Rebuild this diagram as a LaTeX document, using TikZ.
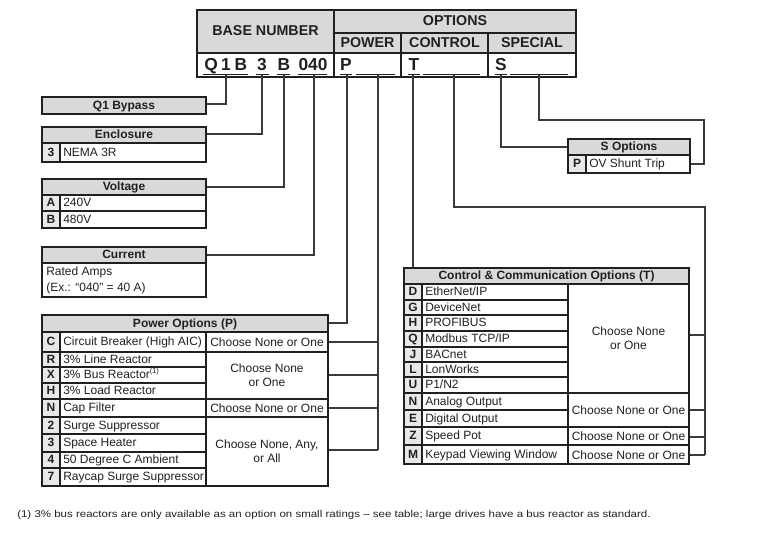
\documentclass[tikz,border=0pt]{standalone}
\usepackage{fontspec}
\setmainfont{Liberation Sans}
\usepackage{graphicx}
\definecolor{ink}{HTML}{231F20}
\definecolor{hdrgray}{HTML}{D9D9D9}
\definecolor{codegray}{HTML}{E8E8E8}
\definecolor{connc}{HTML}{3A3A3A}
\newcommand\tabfont{\fontsize{9}{10.6}\selectfont}
\newcommand\hdrfont{\fontsize{9}{10.6}\selectfont\bfseries}
\newcommand\bigfont{\fontsize{10.7}{12}\selectfont\bfseries}
\newcommand\codefont{\fontsize{13}{14}\selectfont\bfseries}
\newcommand\fnfont{\fontsize{7.4}{8.5}\selectfont}
\newcommand\coderow[7]{%
  \node[codetxt] (#1c) at ({(#2+#3)/2},{(#4+#5)/2}) {#6};
  \node[desctxt] (#1d) at ({#3+3},{(#4+#5)/2}) {#7};
}
\tikzset{
  frame/.style={draw=ink, line width=2.1pt},
  thinl/.style={draw=ink, line width=1.2pt},
  grpl/.style={draw=ink, line width=1.9pt},
  conn/.style={draw=connc, line width=0.9pt},
  uline/.style={draw=ink, line width=1.3pt},
  codetxt/.style={font=\hdrfont, text=ink, inner sep=0pt, anchor=mid},
  desctxt/.style={font=\tabfont, text=ink, inner sep=0pt, anchor=mid west},
  choosetxt/.style={font=\tabfont, text=ink, inner sep=0pt, align=center},
  hdrtxt/.style={font=\hdrfont, text=ink, inner sep=0pt, anchor=mid},
  bigtxt/.style={font=\bigfont, text=ink, inner sep=0pt, anchor=mid},
  codebig/.style={font=\codefont, text=ink, inner sep=0pt, anchor=base},
}
\begin{document}
\begin{tikzpicture}[x=0.75pt,y=-0.75pt]
\useasboundingbox (0,0) rectangle (760,560);

% ---------- header box ----------
\fill[hdrgray] (197,10) rectangle (576,53);
\draw[thinl] (334,33) -- (576,33);
\draw[grpl] (197,53) -- (576,53);
\draw[grpl] (334,10) -- (334,77);
\draw[grpl] (401,33) -- (401,77);
\draw[grpl] (488,33) -- (488,77);
\draw[frame] (197,10) rectangle (576,77);
\node[bigtxt] (basenum) at (265.5,32) {BASE NUMBER};
\node[bigtxt] (options) at (455,21.5) {OPTIONS};
\node[bigtxt] (power) at (367.5,43.5) {POWER};
\node[bigtxt] (control) at (444.5,43.5) {CONTROL};
\node[bigtxt] (special) at (532,43.5) {SPECIAL};

\node[codebig] (kQ) at (211,71) {Q};
\node[codebig] (k1) at (226,71) {1};
\node[codebig] (kB) at (241,71) {B};
\node[codebig] (k3) at (262,71) {3};
\node[codebig] (kB2) at (284,71) {B};
\node[codebig] (k040) at (313,71) {040};
\node[codebig] (kP) at (346,71) {P};
\node[codebig] (kT) at (414,71) {T};
\node[codebig] (kS) at (501,71) {S};
\draw[uline] (203,74.5) -- (248,74.5);
\draw[uline] (256,74.5) -- (269,74.5);
\draw[uline] (277,74.5) -- (290,74.5);
\draw[uline] (298,74.5) -- (327,74.5);
\draw[uline] (340,74.5) -- (352,74.5);
\draw[uline] (356,74.5) -- (395,74.5);
\draw[uline] (408,74.5) -- (420,74.5);
\draw[uline] (423,74.5) -- (480,74.5);
\draw[uline] (495,74.5) -- (507,74.5);
\draw[uline] (510,74.5) -- (568,74.5);

\coordinate (uQ) at (226,75.5);
\coordinate (u3) at (262,75.5);
\coordinate (uB) at (284,75.5);
\coordinate (u040) at (314,75.5);
\coordinate (uP) at (347,75.5);
\coordinate (uPb) at (378,75.5);
\coordinate (uT) at (413,75.5);
\coordinate (uTb) at (454,75.5);
\coordinate (uS) at (501,75.5);
\coordinate (uSb) at (539,75.5);

% ---------- Q1 Bypass ----------
\fill[hdrgray] (42,97) rectangle (206,114);
\draw[frame] (42,97) rectangle (206,114);
\node[hdrtxt] (q1) at (124,105.5) {Q1 Bypass};
\coordinate (q1R) at (207,104);

% ---------- Enclosure ----------
\fill[hdrgray] (42,127) rectangle (206,143);
\fill[codegray] (42,143) rectangle (60,162);
\draw[thinl] (42,143) -- (206,143);
\draw[thinl] (60,143) -- (60,162);
\draw[frame] (42,127) rectangle (206,162);
\node[hdrtxt] (encl) at (124,135) {Enclosure};
\coderow{e3}{42}{60}{143}{162}{3}{NEMA 3R}
\coordinate (encR) at (207,134);

% ---------- Voltage ----------
\fill[hdrgray] (42,179) rectangle (206,195);
\fill[codegray] (42,195) rectangle (60,228);
\draw[thinl] (42,195) -- (206,195);
\draw[thinl] (42,211) -- (206,211);
\draw[thinl] (60,195) -- (60,228);
\draw[frame] (42,179) rectangle (206,228);
\node[hdrtxt] (volt) at (124,187) {Voltage};
\coderow{vA}{42}{60}{195}{211}{A}{240V}
\coderow{vB}{42}{60}{211}{228}{B}{480V}
\coordinate (voltR) at (207,187);

% ---------- Current ----------
\fill[hdrgray] (42,247) rectangle (206,263);
\draw[thinl] (42,263) -- (206,263);
\draw[frame] (42,247) rectangle (206,297);
\node[hdrtxt] (curr) at (124,255) {Current};
\node[desctxt] (cur1) at (46,271.5) {Rated Amps};
\node[desctxt] (cur2) at (46,287.5) {(Ex.: “040” = 40 A)};
\coordinate (curR) at (207,255);

% ---------- Power options ----------
\fill[hdrgray] (42,315) rectangle (328,332);
\fill[codegray] (42,332) rectangle (60,486);
\foreach \yy in {367,383,434,452,468} \draw[thinl] (42,\yy) -- (206,\yy);
\foreach \yy in {332,352,399,417} \draw[grpl] (42,\yy) -- (328,\yy);
\draw[thinl] (60,332) -- (60,486);
\draw[grpl] (206,332) -- (206,486);
\draw[frame] (42,315) rectangle (328,486);
\node[hdrtxt] (pwr) at (185,323.5) {Power Options (P)};
\coderow{pC}{42}{60}{332}{352}{C}{Circuit Breaker (High AIC)}
\coderow{pR}{42}{60}{352}{367}{R}{3\% Line Reactor}
\coderow{pX}{42}{60}{367}{383}{X}{3\% Bus Reactor\textsuperscript{\fontsize{5.5}{6}\selectfont(1)}}
\coderow{pH}{42}{60}{383}{399}{H}{3\% Load Reactor}
\coderow{pN}{42}{60}{399}{417}{N}{Cap Filter}
\coderow{p2}{42}{60}{417}{434}{2}{Surge Suppressor}
\coderow{p3}{42}{60}{434}{452}{3}{Space Heater}
\coderow{p4}{42}{60}{452}{468}{4}{50 Degree C Ambient}
\coderow{p7}{42}{60}{468}{486}{7}{Raycap Surge Suppressor}
\node[choosetxt] (pch1) at (267,342) {Choose None or One};
\node[choosetxt] (pch2) at (267,375.5) {Choose None\\or One};
\node[choosetxt] (pch3) at (267,408) {Choose None or One};
\node[choosetxt] (pch4) at (267,451.5) {Choose None, Any,\\or All};
\coordinate (powR) at (329,323);
\coordinate (pg1) at (329,342);
\coordinate (pg2) at (329,375);
\coordinate (pg3) at (329,408);
\coordinate (pg4) at (329,450);

% ---------- Control options ----------
\fill[hdrgray] (404,268) rectangle (689,284);
\fill[codegray] (404,284) rectangle (422,464);
\foreach \yy in {300,315,331,347,362,377,410} \draw[thinl] (404,\yy) -- (568,\yy);
\foreach \yy in {284,393,427,445} \draw[grpl] (404,\yy) -- (689,\yy);
\draw[thinl] (422,284) -- (422,464);
\draw[grpl] (568,284) -- (568,464);
\draw[frame] (404,268) rectangle (689,464);
\node[hdrtxt] (ctl) at (546.5,276) {Control \& Communication Options (T)};
\coderow{cD}{404}{422}{284}{300}{D}{EtherNet/IP}
\coderow{cG}{404}{422}{300}{315}{G}{DeviceNet}
\coderow{cH}{404}{422}{315}{331}{H}{PROFIBUS}
\coderow{cQ}{404}{422}{331}{347}{Q}{Modbus TCP/IP}
\coderow{cJ}{404}{422}{347}{362}{J}{BACnet}
\coderow{cL}{404}{422}{362}{377}{L}{LonWorks}
\coderow{cU}{404}{422}{377}{393}{U}{P1/N2}
\coderow{cN}{404}{422}{393}{410}{N}{Analog Output}
\coderow{cE}{404}{422}{410}{427}{E}{Digital Output}
\coderow{cZ}{404}{422}{427}{445}{Z}{Speed Pot}
\coderow{cM}{404}{422}{445}{464}{M}{Keypad Viewing Window}
\node[choosetxt] (cch1) at (628.5,338) {Choose None\\or One};
\node[choosetxt] (cch2) at (628.5,410.5) {Choose None or One};
\node[choosetxt] (cch3) at (628.5,436.5) {Choose None or One};
\node[choosetxt] (cch4) at (628.5,455) {Choose None or One};
\coordinate (ctlT) at (413,267);
\coordinate (tr) at (705,207);
\coordinate (tb) at (705,455);
\coordinate (cg1) at (690,335);
\coordinate (cg2) at (690,410);
\coordinate (cg3) at (690,437);
\coordinate (cg4) at (690,455);

% ---------- S options ----------
\fill[hdrgray] (568,139) rectangle (690,155);
\fill[codegray] (568,155) rectangle (586,173);
\draw[thinl] (568,155) -- (690,155);
\draw[thinl] (586,155) -- (586,173);
\draw[frame] (568,139) rectangle (690,173);
\node[hdrtxt] (sopt) at (629,147) {S Options};
\coderow{sP}{568}{586}{155}{173}{P}{OV Shunt Trip}
\coordinate (sL) at (567,147);
\coordinate (sR) at (691,164);
\coordinate (sr) at (704,120);

% ---------- connectors ----------
\draw[conn] (uQ) |- (q1R);
\draw[conn] (u3) |- (encR);
\draw[conn] (uB) |- (voltR);
\draw[conn] (u040) |- (curR);
\draw[conn] (uP) |- (powR);
\draw[conn] (uPb) -- (uPb |- pg4);
\foreach \g in {pg1,pg2,pg3,pg4} \draw[conn] (\g) -- (\g -| uPb);
\draw[conn] (uT) -- (ctlT);
\draw[conn] (uTb) |- (tr) -- (tb);
\foreach \g in {cg1,cg2,cg3,cg4} \draw[conn] (\g) -- (\g -| tr);
\draw[conn] (uS) |- (sL);
\draw[conn] (uSb) |- (sr) |- (sR);

% ---------- footnote ----------
\node[inner sep=0pt, anchor=base west, text=ink] (fn) at (17,517.5)
  {\resizebox{475pt}{\height}{\fnfont (1) 3\% bus reactors are only available as an option on small ratings – see table; large drives have a bus reactor as standard.}};
\end{tikzpicture}
\end{document}
